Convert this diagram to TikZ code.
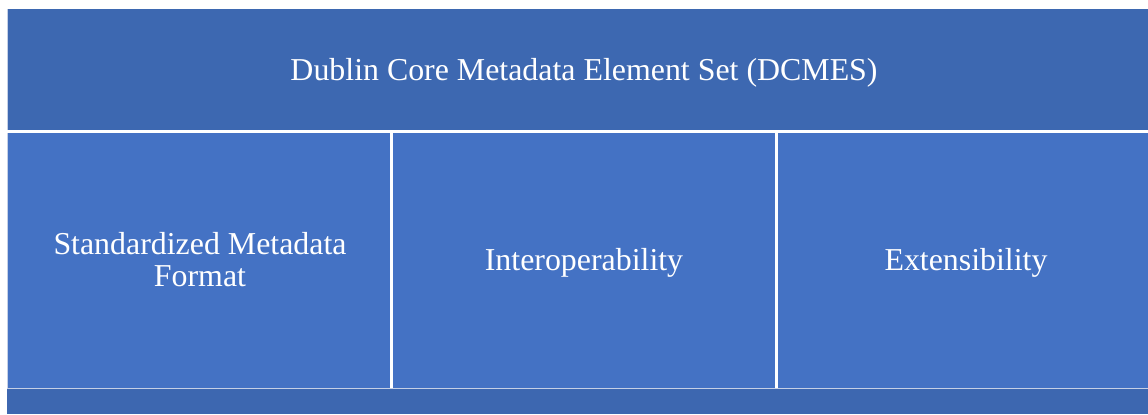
\documentclass[tikz,border=0pt]{standalone}
\usepackage{fontspec}
\setmainfont{Liberation Serif}
\definecolor{darkblue}{HTML}{3D68B1}
\definecolor{cellblue}{HTML}{4472C4}
\definecolor{bandblue}{HTML}{3D67B0}
\definecolor{edgeline}{HTML}{C5D0E6}
\tikzset{
  lbl/.style={text=white, font=\fontsize{32}{32}\selectfont, align=center},
}
\begin{document}
\begin{tikzpicture}[x=1bp,y=1bp]
\useasboundingbox (0,0) rectangle (1148,414);
\fill[white] (0,0) rectangle (1148,414);
% top header
\fill[darkblue] (7,284) rectangle (1148,405);
\draw[edgeline, line width=1.2bp] (7.5,284) -- (7.5,405);
% cells
\fill[cellblue] (7,26) rectangle (390,281);
\fill[cellblue] (393,26) rectangle (775,281);
\fill[cellblue] (778,26) rectangle (1148,281);
\draw[edgeline, line width=1.2bp] (7.5,26) -- (7.5,281);
% bottom band
\fill[bandblue] (7,0) rectangle (1148,25);
\draw[edgeline, line width=1.5bp] (7,25.5) -- (1148,25.5);
% texts
\node[lbl] (title) at (584,341) {Dublin Core Metadata Element Set (DCMES)};
\node[lbl] (c1) at (200,154) {Standardized Metadata\\Format};
\node[lbl] (c2) at (584,151) {Interoperability};
\node[lbl] (c3) at (966,151) {Extensibility};
\end{tikzpicture}
\end{document}
